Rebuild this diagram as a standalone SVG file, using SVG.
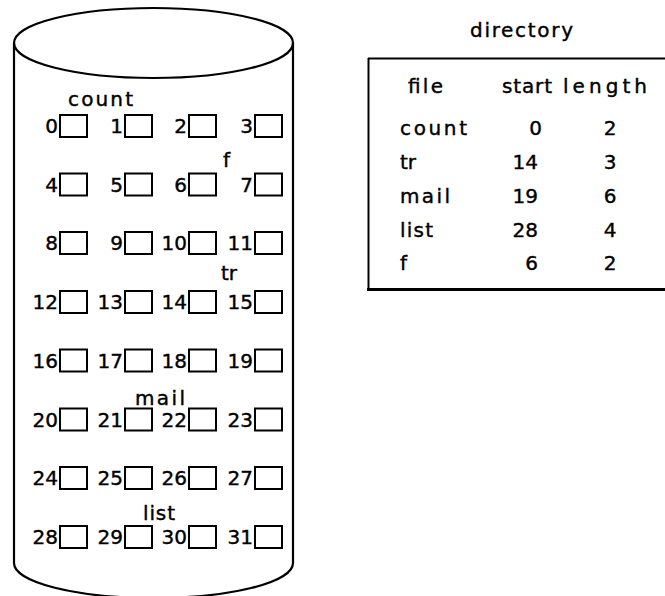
<svg xmlns="http://www.w3.org/2000/svg" width="665" height="596" viewBox="0 0 665 596">
<style>
text{font-family:"DejaVu Sans","Liberation Sans",Arial,sans-serif;font-size:20px;fill:#000;stroke:#000;stroke-width:0.4}
.n{text-anchor:end}
.c{text-anchor:middle}
.blk{fill:#fff;stroke:#000;stroke-width:2}
.ln{fill:none;stroke:#000;stroke-width:2.2}
</style>
<rect width="665" height="596" fill="#fff"/>
<g id="disk">
<path class="ln" d="M14,43 L14,563 A139.5,35 0 0 0 293,563 L293,43"/>
<ellipse class="ln" cx="153.5" cy="43" rx="139.5" ry="35" fill="#fff"/>
</g>
<g id="blocks">
<g id="b0"><rect class="blk" x="60" y="115" width="27" height="22"/><text class="n" x="58" y="133">0</text></g>
<g id="b1"><rect class="blk" x="125" y="115" width="27" height="22"/><text class="n" x="123" y="133">1</text></g>
<g id="b2"><rect class="blk" x="189" y="115" width="27" height="22"/><text class="n" x="187" y="133">2</text></g>
<g id="b3"><rect class="blk" x="255" y="115" width="27" height="22"/><text class="n" x="253" y="133">3</text></g>
<g id="b4"><rect class="blk" x="60" y="173.5" width="27" height="22"/><text class="n" x="58" y="191.5">4</text></g>
<g id="b5"><rect class="blk" x="125" y="173.5" width="27" height="22"/><text class="n" x="123" y="191.5">5</text></g>
<g id="b6"><rect class="blk" x="189" y="173.5" width="27" height="22"/><text class="n" x="187" y="191.5">6</text></g>
<g id="b7"><rect class="blk" x="255" y="173.5" width="27" height="22"/><text class="n" x="253" y="191.5">7</text></g>
<g id="b8"><rect class="blk" x="60" y="232" width="27" height="22"/><text class="n" x="58" y="250">8</text></g>
<g id="b9"><rect class="blk" x="125" y="232" width="27" height="22"/><text class="n" x="123" y="250">9</text></g>
<g id="b10"><rect class="blk" x="189" y="232" width="27" height="22"/><text class="n" x="187" y="250">10</text></g>
<g id="b11"><rect class="blk" x="255" y="232" width="27" height="22"/><text class="n" x="253" y="250">11</text></g>
<g id="b12"><rect class="blk" x="60" y="291" width="27" height="22"/><text class="n" x="58" y="309">12</text></g>
<g id="b13"><rect class="blk" x="125" y="291" width="27" height="22"/><text class="n" x="123" y="309">13</text></g>
<g id="b14"><rect class="blk" x="189" y="291" width="27" height="22"/><text class="n" x="187" y="309">14</text></g>
<g id="b15"><rect class="blk" x="255" y="291" width="27" height="22"/><text class="n" x="253" y="309">15</text></g>
<g id="b16"><rect class="blk" x="60" y="349.5" width="27" height="22"/><text class="n" x="58" y="367.5">16</text></g>
<g id="b17"><rect class="blk" x="125" y="349.5" width="27" height="22"/><text class="n" x="123" y="367.5">17</text></g>
<g id="b18"><rect class="blk" x="189" y="349.5" width="27" height="22"/><text class="n" x="187" y="367.5">18</text></g>
<g id="b19"><rect class="blk" x="255" y="349.5" width="27" height="22"/><text class="n" x="253" y="367.5">19</text></g>
<g id="b20"><rect class="blk" x="60" y="408.5" width="27" height="22"/><text class="n" x="58" y="426.5">20</text></g>
<g id="b21"><rect class="blk" x="125" y="408.5" width="27" height="22"/><text class="n" x="123" y="426.5">21</text></g>
<g id="b22"><rect class="blk" x="189" y="408.5" width="27" height="22"/><text class="n" x="187" y="426.5">22</text></g>
<g id="b23"><rect class="blk" x="255" y="408.5" width="27" height="22"/><text class="n" x="253" y="426.5">23</text></g>
<g id="b24"><rect class="blk" x="60" y="467" width="27" height="22"/><text class="n" x="58" y="485">24</text></g>
<g id="b25"><rect class="blk" x="125" y="467" width="27" height="22"/><text class="n" x="123" y="485">25</text></g>
<g id="b26"><rect class="blk" x="189" y="467" width="27" height="22"/><text class="n" x="187" y="485">26</text></g>
<g id="b27"><rect class="blk" x="255" y="467" width="27" height="22"/><text class="n" x="253" y="485">27</text></g>
<g id="b28"><rect class="blk" x="60" y="526" width="27" height="22"/><text class="n" x="58" y="544">28</text></g>
<g id="b29"><rect class="blk" x="125" y="526" width="27" height="22"/><text class="n" x="123" y="544">29</text></g>
<g id="b30"><rect class="blk" x="189" y="526" width="27" height="22"/><text class="n" x="187" y="544">30</text></g>
<g id="b31"><rect class="blk" x="255" y="526" width="27" height="22"/><text class="n" x="253" y="544">31</text></g>
</g>
<g id="file-labels">
<text x="68" y="106" textLength="65" lengthAdjust="spacing">count</text>
<text x="223" y="167">f</text>
<text x="221" y="280">tr</text>
<text x="135" y="405" textLength="50" lengthAdjust="spacing">mail</text>
<text x="143" y="520" textLength="32" lengthAdjust="spacing">list</text>
</g>
<g id="directory">
<text x="470" y="37" textLength="103" lengthAdjust="spacing">directory</text>
<path d="M368,58.5 L665,58.5" stroke="#000" stroke-width="2" fill="none"/>
<path d="M368.5,58 L368.5,290" stroke="#000" stroke-width="2" fill="none"/>
<path d="M367,289.5 L665,289.5" stroke="#000" stroke-width="3" fill="none"/>
<text x="408" y="93" textLength="35" lengthAdjust="spacing">file</text>
<text x="502" y="93" textLength="50" lengthAdjust="spacing">start</text>
<text x="563" y="93" textLength="84" lengthAdjust="spacing">length</text>
<text x="400" y="135" textLength="67" lengthAdjust="spacing">count</text>
<text class="n" x="542" y="135">0</text>
<text class="c" x="610" y="135">2</text>
<text x="400" y="169">tr</text>
<text class="n" x="538" y="169">14</text>
<text class="c" x="610" y="169">3</text>
<text x="400" y="203" textLength="50" lengthAdjust="spacing">mail</text>
<text class="n" x="538" y="203">19</text>
<text class="c" x="610" y="203">6</text>
<text x="400" y="237" textLength="33" lengthAdjust="spacing">list</text>
<text class="n" x="538" y="237">28</text>
<text class="c" x="610" y="237">4</text>
<text x="400" y="270">f</text>
<text class="n" x="538" y="270">6</text>
<text class="c" x="610" y="270">2</text>
</g>
<g id="connectors"/>
</svg>
